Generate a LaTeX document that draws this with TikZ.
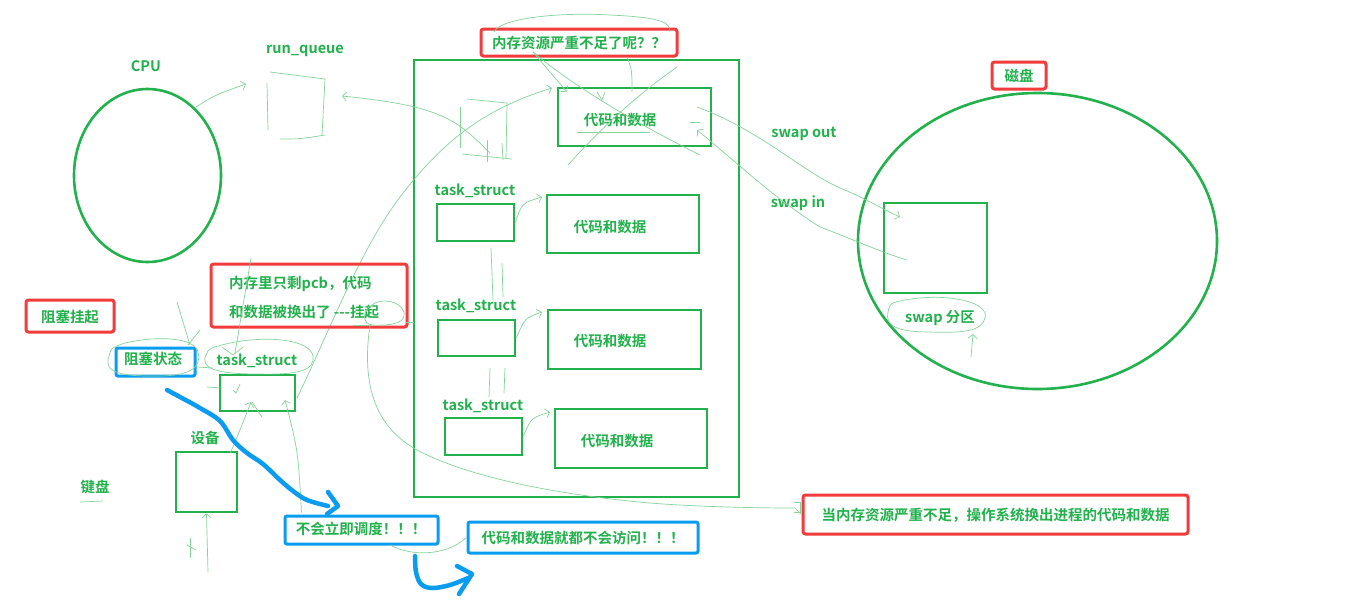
\documentclass[tikz,border=0pt]{standalone}
\usepackage{fontspec}
\setmainfont{Noto Sans CJK SC}[BoldFont={Noto Sans CJK SC Bold}]
\usetikzlibrary{arrows.meta,shapes.geometric}
\definecolor{pg}{HTML}{22B14C}
\definecolor{pr}{HTML}{F23B3B}
\definecolor{pb}{HTML}{0A9CF0}
\definecolor{tl}{HTML}{86D39B}
\begin{document}
\begin{tikzpicture}[x=1pt,y=-1pt,
  txt/.style={text=pg,font=\fontsize{14.5}{17}\selectfont\bfseries,inner sep=0pt},
  gbox/.style={draw=pg,line width=2.6pt,inner sep=0pt},
  gell/.style={draw=pg,line width=2.6pt,ellipse,inner sep=0pt},
  rbox/.style={draw=pr,line width=3pt,rounded corners=2.5pt,inner sep=0pt},
  bbox/.style={draw=pb,line width=3pt,rounded corners=2pt,inner sep=0pt},
  hand/.style={draw=tl,line width=0.7pt},
  harr/.style={hand,-{Straight Barb[length=4pt,width=9pt]}},
  blu/.style={draw=pb,line width=4.5pt,line cap=round,line join=round}]
\fill[white] (0,0) rectangle (1355,606);
\useasboundingbox (0,0) rectangle (1355,606);

% ---------- CPU and run queue ----------
\node[gell,minimum width=147,minimum height=173] (cpu) at (147.5,175.5) {};
\node[txt] (cpul) at (146,66) {CPU};
\node[txt] (rql) at (305,51) {run\_queue};
\coordinate (rq) at (342,96);
\draw[hand] (270,72) -- (325,79) -- (322,135);
\draw[hand] (280,139) .. controls (300,139) .. (325,135);
\draw[hand] (267,83) -- (268,130);
\coordinate (cpuo) at (196,107);
\coordinate (rqi) at (246,84);
\draw[harr] (cpuo) .. controls (215,95) .. (rqi);

% ---------- memory ----------
\node[gbox,minimum width=325,minimum height=437] (mem) at (576.5,278.5) {};
\node[rbox,minimum width=196,minimum height=27] (q1) at (579,42.5) {};
\node[txt] (q1t) at (579,43) {内存资源严重不足了呢？？};

\node[gbox,minimum width=153,minimum height=58] (cd1) at (634.5,117) {};
\node[txt] (cd1t) at (620,120) {代码和数据};

\node[txt] (ts1l) at (475,191) {task\_struct};
\node[gbox,minimum width=77,minimum height=37] (ts1) at (475.5,222.5) {};
\node[gbox,minimum width=152,minimum height=58] (cd2) at (623,224) {};
\node[txt] (cd2t) at (610,227) {代码和数据};

\node[txt] (ts2l) at (476,306) {task\_struct};
\node[gbox,minimum width=77,minimum height=36] (ts2) at (476.5,338) {};
\node[gbox,minimum width=153,minimum height=59] (cd3) at (624.5,339.5) {};
\node[txt] (cd3t) at (610,341) {代码和数据};

\node[txt] (ts3l) at (483,406) {task\_struct};
\node[gbox,minimum width=77,minimum height=37] (ts3) at (483.5,436.5) {};
\node[gbox,minimum width=152,minimum height=59] (cd4) at (631,438.5) {};
\node[txt] (cd4t) at (617,441) {代码和数据};

% small arrows task_struct -> code
\draw[harr] (ts1.east) .. controls (522,203) .. (542,197);
\draw[harr] (ts2.east) .. controls (525,318) .. (542,312);
\draw[harr] (ts3.east) .. controls (531,418) .. (550,412);
% links between task_structs
\draw[hand] (491,248) -- (493,300);
\draw[hand] (502,263) -- (503,297);
\draw[hand] (490,368) -- (489,397);
\draw[hand] (505,368) -- (504,393);
\draw[hand] (487,140) -- (487,162);
\draw[hand] (502,143) -- (503,160);
% hand drawn square inside memory
\draw[hand] (460,107) -- (460,148);
\draw[hand] (467,99) -- (507,103) -- (506,158);
\draw[hand] (462,154) -- (512,159);
% memory -> run queue
\draw[harr] (490,153) .. controls (455,118) and (440,106) .. (rq);
% task_struct (blocked) -> code and data
\coordinate (tsb) at (297,398);
\draw[harr] (tsb) .. controls (330,330) and (360,250) .. (400,197) .. controls (440,145) and (480,110) .. (552,88);
% crossing lines on first code box
\draw[hand] (533,52) .. controls (560,75) and (610,110) .. (700,155);
\draw[harr] (533,52) -- (567,92);
\draw[hand] (677,67) .. controls (630,100) and (595,135) .. (568,165);
\draw[hand] (627,57) .. controls (632,70) .. (632,92);
\draw[hand] (597,92) -- (602,100) -- (605,92);
\draw[hand] (577,132) -- (650,132);
\draw[hand] (690,122) -- (700,122);
% arc over the red question box
\draw[hand] (494,32) .. controls (500,18) and (560,12) .. (610,15) .. controls (650,17) and (672,20) .. (670,32);

% ---------- disk ----------
\node[gell,minimum width=359,minimum height=296] (disk) at (1037.5,241) {};
\node[rbox,minimum width=54,minimum height=27] (diskl) at (1019,75.5) {};
\node[txt] (diskt) at (1019,76) {磁盘};
\node[gbox,minimum width=103,minimum height=90] (swsq) at (935.5,248) {};
\node[txt] (swl) at (940,318) {swap 分区};
\draw[hand] (905,300) .. controls (950,292) and (990,303) .. (985,318) .. controls (982,332) and (960,333) .. (930,332) .. controls (895,332) and (885,325) .. (888,312) .. controls (890,303) .. (905,300);
\coordinate (swa) at (971,357);
\draw[harr] (swa) -- (973,334);
\node[txt] (soutl) at (804,134) {swap out};
\node[txt] (sinl) at (798,203) {swap in};
\coordinate (soute) at (900,217);
\coordinate (sins) at (907,260);
\draw[harr] (697,107) .. controls (760,130) and (800,170) .. (840,188) .. controls (865,198) and (880,208) .. (soute);
\draw[harr] (sins) .. controls (880,252) and (850,238) .. (820,227) .. controls (770,195) and (740,165) .. (697,130);

% ---------- note boxes ----------
\node[rbox,minimum width=385,minimum height=39] (note) at (995.5,514.5) {};
\node[txt] (notet) at (995.5,515) {当内存资源严重不足，操作系统换出进程的代码和数据};

\node[rbox,minimum width=196,minimum height=63] (pcb) at (309,295.5) {};
\node[txt,anchor=west] (pcb1) at (229,284) {内存里只剩pcb，代码};
\node[txt,anchor=west] (pcb2) at (229,312) {和数据被换出了 -{}-{}-挂起};
\draw[hand] (372,305) .. controls (380,298) and (400,300) .. (404,312) .. controls (406,322) and (395,326) .. (372,325) .. controls (362,324) and (362,310) .. (372,305);
\draw[hand] (353,325) -- (370,325);
\draw[hand] (405,322) -- (414,322);
\coordinate (gq) at (370,325);
\draw[hand] (gq) .. controls (362,380) and (372,425) .. (417,450) .. controls (470,478) and (560,495) .. (650,503) .. controls (700,507) and (760,508) .. (795,508) -- (note.west);
\draw[hand] (794,502) -- (800,502) -- (800,512) -- (794,512);

\node[rbox,minimum width=88,minimum height=32] (zsgq) at (70,316) {};
\node[txt] (zsgqt) at (70,317) {阻塞挂起};
\node[bbox,minimum width=79,minimum height=28] (zszt) at (155.5,362) {};
\node[txt] (zsztt) at (153,359) {阻塞状态};
\draw[hand] (125,343) .. controls (160,335) and (195,338) .. (198,352) .. controls (202,368) and (190,377) .. (150,376) .. controls (115,376) and (104,370) .. (109,356) .. controls (111,348) .. (125,343);

\node[txt] (ts0l) at (257,361) {task\_struct};
\node[gbox,minimum width=75,minimum height=36] (ts0) at (257.5,393) {};
\draw[hand] (230,343) .. controls (270,335) and (310,340) .. (313,356) .. controls (315,370) and (300,375) .. (258,374) .. controls (215,374) and (200,368) .. (206,355) .. controls (209,348) .. (230,343);
\draw[hand] (197,367) -- (213,368);
\draw[hand] (177,302) -- (190,345);
\draw[hand] (200,330) -- (188,345);
\draw[hand] (251,258) -- (235,353);
\draw[hand] (222,347) -- (233,355) -- (243,347);
\draw[hand] (207,387) -- (222,388);
\draw[hand] (233,390) -- (236,393) -- (240,384);

\node[txt] (sbl) at (205,438) {设备};
\node[gbox,minimum width=61,minimum height=60] (sb) at (206.5,482) {};
\node[txt] (jp) at (95,487) {键盘};
\draw[hand] (80,502) -- (103,501);
\draw[harr] (sb.north) ++(24,2) .. controls (240,430) .. (251,402);
\draw[hand] (252,402) -- (262,417);
\coordinate (kbin) at (208,572);
\draw[harr] (kbin) -- (sb.south);
\draw[hand] (187,545) -- (196,550);
\draw[hand] (190,538) -- (190,558);

\node[bbox,minimum width=153,minimum height=28] (b1) at (361.5,530) {};
\node[txt] (b1t) at (361,529) {不会立即调度！！！};
\node[bbox,minimum width=230,minimum height=31] (b2) at (583,537.5) {};
\node[txt] (b2t) at (583,538) {代码和数据就都不会访问！！！};
\draw[harr] (b1.north) ++(-60,-2) .. controls (298,450) .. (285,400);
\draw[hand] (390,545) .. controls (410,556) and (445,557) .. (b2.west);

% thick blue strokes
\coordinate (bl0) at (167,390);
\draw[blu] plot[smooth,tension=0.6] coordinates {(bl0) (180,397) (200,408) (220,421) (233,440) (247,453) (263,464) (280,480) (293,491) (307,500) (328,506)};
\draw[blu] (328,492) -- (338,506) -- (327,514);
\coordinate (bl2) at (415,556);
\draw[blu] plot[smooth,tension=0.6] coordinates {(bl2) (416,572) (421,584) (432,588) (450,585) (468,578)};
\draw[blu] (457,566) -- (472,574) -- (459,594);
\end{tikzpicture}
\end{document}
